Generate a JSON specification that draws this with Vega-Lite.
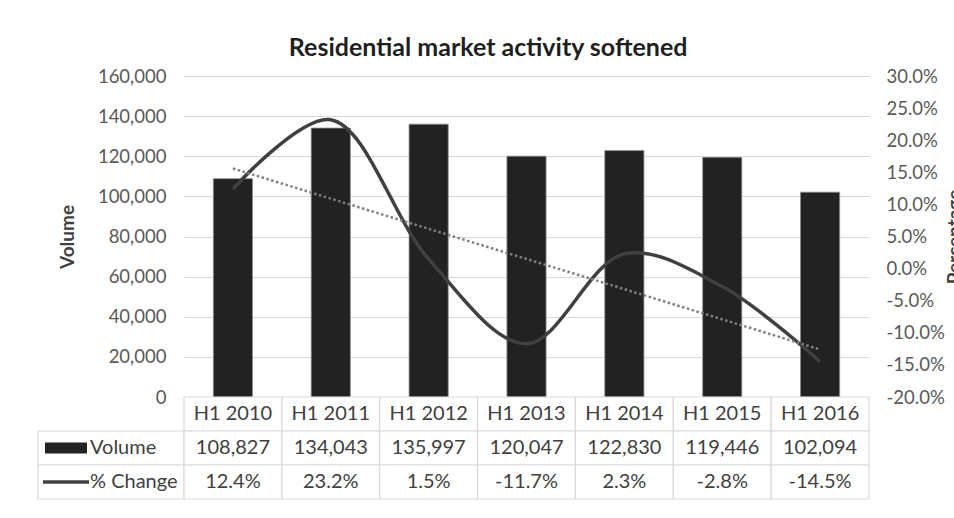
{
  "$schema": "https://vega.github.io/schema/vega-lite/v6.json",
  "autosize": {"type": "pad"},
  "padding": {"left": 36, "top": 36, "right": 0, "bottom": 0},
  "background": "white",
  "title": {"text": "Residential market activity softened", "font": "Lato", "fontSize": 25, "fontWeight": "bold", "color": "#1f1f1f", "anchor": "middle", "offset": 6, "dx": -12},
  "datasets": {
    "main": [
      {"period": "H1 2010", "volume": 108827, "pct": 0.124},
      {"period": "H1 2011", "volume": 134043, "pct": 0.232},
      {"period": "H1 2012", "volume": 135997, "pct": 0.015},
      {"period": "H1 2013", "volume": 120047, "pct": -0.117},
      {"period": "H1 2014", "volume": 122830, "pct": 0.023},
      {"period": "H1 2015", "volume": 119446, "pct": -0.028},
      {"period": "H1 2016", "volume": 102094, "pct": -0.145}
    ],
    "trend": [
      {"period": "H1 2010", "trend": 0.156},
      {"period": "H1 2016", "trend": -0.126}
    ],
    "legend": [
      {"row": "Volume", "label": "Volume"},
      {"row": "% Change", "label": "% Change"}
    ]
  },
  "config": {
    "locale": {"number": {"decimal": ".", "thousands": ",", "grouping": [3], "currency": ["$", ""], "minus": "-"}},
    "font": "Lato",
    "view": {"stroke": null},
    "axis": {
      "labelFont": "Lato", "labelFontSize": 18.5, "labelColor": "#595959", "labelOverlap": false,
      "ticks": false, "domain": false,
      "gridColor": "#d9d9d9", "gridWidth": 1.2,
      "titleFont": "Lato", "titleFontSize": 19, "titleColor": "#404040", "titleFontWeight": "bold"
    },
    "text": {"font": "Lato", "fontSize": 20, "color": "#404040"}
  },
  "columns": 2,
  "bounds": "flush",
  "align": "each",
  "spacing": 0,
  "concat": [
    {
      "width": 146, "height": 321,
      "data": {"values": [{"t": ""}]},
      "mark": {"type": "text"},
      "encoding": {"text": {"field": "t"}}
    },
    {
      "width": 685, "height": 321,
      "data": {"name": "main"},
      "encoding": {
        "x": {"field": "period", "type": "ordinal", "scale": {"paddingInner": 0.6, "paddingOuter": 0.3}, "axis": null}
      },
      "layer": [
        {
          "mark": {"type": "bar", "color": "#222222", "stroke": "#8c8c8c", "strokeWidth": 0.8},
          "encoding": {
            "y": {"field": "volume", "type": "quantitative",
              "scale": {"domain": [0, 160000], "nice": false},
              "axis": {"title": "Volume", "orient": "left", "values": [0, 20000, 40000, 60000, 80000, 100000, 120000, 140000, 160000], "format": ",.0f", "grid": true, "labelPadding": 18, "titlePadding": 20}}
          }
        },
        {
          "layer": [
            {
              "mark": {"type": "line", "interpolate": "catmull-rom", "color": "#404040", "strokeWidth": 3.5},
              "encoding": {
                "y": {"field": "pct", "type": "quantitative",
                  "scale": {"domain": [-0.2, 0.3], "nice": false},
                  "axis": {"title": "Percentage", "orient": "right", "values": [-0.2, -0.15, -0.1, -0.05, 0, 0.05, 0.1, 0.15, 0.2, 0.25, 0.3], "format": ".1%", "grid": false, "labelPadding": 17, "labelOverlap": false, "titleAngle": 270, "titlePadding": 20}}
              }
            },
            {
              "data": {"name": "trend"},
              "mark": {"type": "line", "color": "#7f7f7f", "strokeWidth": 2.5, "strokeDash": [2.5, 2.5]},
              "encoding": {
                "y": {"field": "trend", "type": "quantitative",
                  "axis": {"title": "Percentage", "orient": "right", "values": [-0.2, -0.15, -0.1, -0.05, 0, 0.05, 0.1, 0.15, 0.2, 0.25, 0.3], "format": ".1%", "grid": false, "labelPadding": 17, "labelOverlap": false, "titleAngle": 270, "titlePadding": 20}}
              }
            }
          ]
        }
      ],
      "resolve": {"scale": {"y": "independent"}}
    },
    {
      "width": 146, "height": 102,
      "data": {"name": "legend"},
      "encoding": {
        "y": {"field": "row", "type": "nominal", "scale": {"domain": ["header", "Volume", "% Change"], "paddingInner": 0, "paddingOuter": 0}, "axis": null}
      },
      "layer": [
        {"mark": {"type": "rect", "fill": "white", "stroke": "#d9d9d9", "strokeWidth": 1.2}},
        {
          "transform": [{"filter": "datum.row === 'Volume'"}],
          "mark": {"type": "point", "shape": "M-1,-0.262H1V0.262H-1Z", "size": 1764, "filled": true, "color": "#222222", "opacity": 1},
          "encoding": {"x": {"datum": "symbol", "type": "nominal", "scale": {"type": "point", "domain": ["symbol", "label"], "range": [28, 52], "padding": 0}, "axis": null}}
        },
        {
          "transform": [{"filter": "datum.row === '% Change'"}],
          "mark": {"type": "point", "shape": "M-1,0H1", "size": 2116, "filled": false, "stroke": "#404040", "strokeWidth": 3.5, "opacity": 1},
          "encoding": {"x": {"datum": "symbol", "type": "nominal", "axis": null}}
        },
        {
          "mark": {"type": "text", "align": "left", "baseline": "middle"},
          "encoding": {
            "x": {"datum": "label", "type": "nominal", "axis": null},
            "text": {"field": "label"}
          }
        }
      ]
    },
    {
      "width": 685, "height": 102,
      "data": {"name": "main"},
      "encoding": {
        "x": {"field": "period", "type": "ordinal", "scale": {"paddingInner": 0, "paddingOuter": 0}, "axis": null}
      },
      "layer": [
        {"mark": {"type": "rect", "fill": "white", "stroke": "#d9d9d9", "strokeWidth": 1.2},
         "encoding": {"y": {"datum": "header", "type": "nominal", "scale": {"domain": ["header", "Volume", "% Change"], "paddingInner": 0, "paddingOuter": 0}, "axis": null}}},
        {"mark": {"type": "rect", "fill": "white", "stroke": "#d9d9d9", "strokeWidth": 1.2},
         "encoding": {"y": {"datum": "Volume", "type": "nominal", "axis": null}}},
        {"mark": {"type": "rect", "fill": "white", "stroke": "#d9d9d9", "strokeWidth": 1.2},
         "encoding": {"y": {"datum": "% Change", "type": "nominal", "axis": null}}},
        {"mark": {"type": "text", "baseline": "middle"},
         "encoding": {"y": {"datum": "header", "type": "nominal", "axis": null}, "text": {"field": "period"}}},
        {"mark": {"type": "text", "baseline": "middle"},
         "encoding": {"y": {"datum": "Volume", "type": "nominal", "axis": null}, "text": {"field": "volume", "format": ",.0f"}}},
        {"mark": {"type": "text", "baseline": "middle"},
         "encoding": {"y": {"datum": "% Change", "type": "nominal", "axis": null}, "text": {"field": "pct", "format": ".1%"}}}
      ]
    }
  ]
}
